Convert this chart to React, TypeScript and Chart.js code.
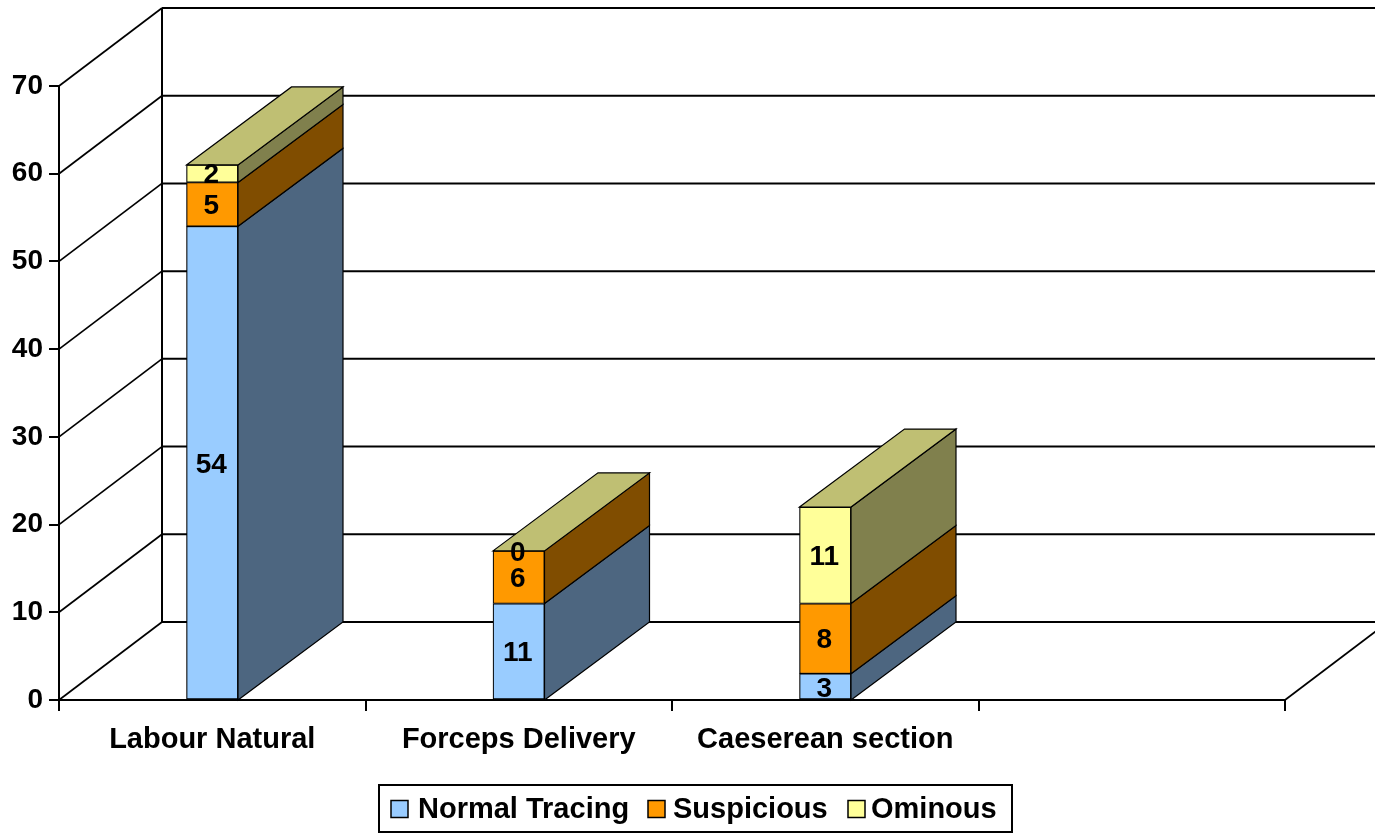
import { useEffect, useRef } from "react";
import { Chart, registerables } from "chart.js";

Chart.register(...registerables);

// Delivery mode per category, with the count of CTG traces of each kind
const categories = ["Labour Natural", "Forceps Delivery", "Caeserean section", ""];
const normalTracing: (number | null)[] = [54, 11, 3, null];
const suspicious: (number | null)[] = [5, 6, 8, null];
const ominous: (number | null)[] = [2, 0, 11, null];

const seriesNames = ["Normal Tracing", "Suspicious", "Ominous"];
const frontColors = ["#99CCFF", "#FF9900", "#FFFF99"];
const sideColors = ["#4D6680", "#804D00", "#80804D"];
const topColors = ["#7399BF", "#BF7300", "#BFBF73"];

const yMin = 0;
const yMax = 70;
const yStep = 10;

const FONT = "'Liberation Sans', Arial, Helvetica, sans-serif";

// Depth projection of the pseudo-3D walls and columns
const WALL_DX = 103;
const WALL_DY = -78;
const BAR_DX = 105;
const BAR_DY = -78;

// Legend layout
const LEGEND_BOX = { x: 379, y: 785, w: 633, h: 47 };
const LEGEND_ITEMS_X = [391, 648, 848];
const LEGEND_TEXT_X = [418, 673, 871];
const LEGEND_SWATCH = 17;

function poly(ctx: CanvasRenderingContext2D, pts: number[][], fill: string) {
  ctx.beginPath();
  ctx.moveTo(pts[0][0], pts[0][1]);
  for (let i = 1; i < pts.length; i++) ctx.lineTo(pts[i][0], pts[i][1]);
  ctx.closePath();
  ctx.fillStyle = fill;
  ctx.fill();
  ctx.strokeStyle = "#000";
  ctx.lineWidth = 1.2;
  ctx.stroke();
}

const wallsPlugin = {
  id: "walls3d",
  beforeDatasetsDraw(chart: any) {
    const { ctx, chartArea, scales } = chart;
    const y = scales.y;
    const { left, right, bottom } = chartArea;
    const W = chart.width;
    ctx.save();
    ctx.strokeStyle = "#000";
    // back wall gridlines
    for (let v = yMin; v <= yMax; v += yStep) {
      const yf = y.getPixelForValue(v);
      const yb = yf + WALL_DY;
      ctx.lineWidth = 2;
      ctx.beginPath();
      ctx.moveTo(left + WALL_DX, yb);
      ctx.lineTo(W, yb);
      ctx.stroke();
      // side wall diagonals
      ctx.lineWidth = 1.7;
      ctx.beginPath();
      ctx.moveTo(left, yf);
      ctx.lineTo(left + WALL_DX, yb);
      ctx.stroke();
    }
    // back corner
    ctx.lineWidth = 2;
    ctx.beginPath();
    ctx.moveTo(left + WALL_DX, y.getPixelForValue(yMin) + WALL_DY);
    ctx.lineTo(left + WALL_DX, y.getPixelForValue(yMax) + WALL_DY);
    ctx.stroke();
    // right edge of the floor
    ctx.lineWidth = 1.7;
    ctx.beginPath();
    ctx.moveTo(right, bottom);
    ctx.lineTo(right + WALL_DX, bottom + WALL_DY);
    ctx.stroke();
    ctx.restore();
  },
  afterDatasetsDraw(chart: any) {
    const { ctx, scales } = chart;
    const y = scales.y;
    const n = chart.data.labels.length;
    ctx.save();
    for (let i = 0; i < n; i++) {
      let cum = 0;
      let topIdx = -1;
      let xl = 0;
      let xr = 0;
      for (let j = 0; j < chart.data.datasets.length; j++) {
        const v = chart.data.datasets[j].data[i];
        if (v === null || v === undefined) continue;
        const el = chart.getDatasetMeta(j).data[i];
        xl = el.x - el.width / 2;
        xr = el.x + el.width / 2;
        const yb = y.getPixelForValue(cum);
        const yt = y.getPixelForValue(cum + v);
        cum += v;
        topIdx = j;
        if (v > 0) {
          poly(ctx, [
            [xr, yt],
            [xr + BAR_DX, yt + BAR_DY],
            [xr + BAR_DX, yb + BAR_DY],
            [xr, yb],
          ], sideColors[j]);
        }
      }
      if (topIdx >= 0) {
        const yt = y.getPixelForValue(cum);
        poly(ctx, [
          [xl, yt],
          [xl + BAR_DX, yt + BAR_DY],
          [xr + BAR_DX, yt + BAR_DY],
          [xr, yt],
        ], topColors[topIdx]);
      }
    }
    // value labels on the front faces
    ctx.fillStyle = "#000";
    ctx.font = `bold 28px ${FONT}`;
    ctx.textAlign = "center";
    ctx.textBaseline = "middle";
    for (let i = 0; i < n; i++) {
      let cum = 0;
      for (let j = 0; j < chart.data.datasets.length; j++) {
        const v = chart.data.datasets[j].data[i];
        if (v === null || v === undefined) continue;
        const el = chart.getDatasetMeta(j).data[i];
        const yb = y.getPixelForValue(cum);
        const yt = y.getPixelForValue(cum + v);
        cum += v;
        ctx.fillText(String(v), el.x - 1, (yb + yt) / 2 + 2);
      }
    }
    ctx.restore();
  },
  afterDraw(chart: any) {
    const { ctx } = chart;
    ctx.save();
    ctx.strokeStyle = "#000";
    ctx.lineWidth = 2;
    ctx.strokeRect(LEGEND_BOX.x, LEGEND_BOX.y, LEGEND_BOX.w, LEGEND_BOX.h);
    ctx.font = `bold 29px ${FONT}`;
    ctx.textAlign = "left";
    ctx.textBaseline = "middle";
    const cy = LEGEND_BOX.y + 24;
    seriesNames.forEach((name, k) => {
      const x = LEGEND_ITEMS_X[k];
      ctx.fillStyle = frontColors[k];
      ctx.fillRect(x, cy - LEGEND_SWATCH / 2, LEGEND_SWATCH, LEGEND_SWATCH);
      ctx.lineWidth = 1.5;
      ctx.strokeRect(x, cy - LEGEND_SWATCH / 2, LEGEND_SWATCH, LEGEND_SWATCH);
      ctx.fillStyle = "#000";
      ctx.fillText(name, LEGEND_TEXT_X[k], cy + 1);
    });
    ctx.restore();
  },
};

export default function App() {
  const ref = useRef<HTMLCanvasElement | null>(null);

  useEffect(() => {
    if (!ref.current) return;
    const series = [normalTracing, suspicious, ominous];
    const chart = new Chart(ref.current, {
      type: "bar",
      data: {
        labels: categories,
        datasets: series.map((d, k) => ({
          label: seriesNames[k],
          data: d,
          backgroundColor: frontColors[k],
          borderColor: "#000",
          borderWidth: 1.2,
          borderSkipped: false,
          barThickness: 51.5,
        })),
      },
      options: {
        responsive: false,
        animation: false,
        devicePixelRatio: 1,
        layout: { padding: { top: 86, right: 90, left: 0, bottom: 0 } },
        plugins: {
          legend: { display: false },
          tooltip: { enabled: false },
        },
        scales: {
          x: {
            stacked: true,
            afterFit: (s: any) => {
              s.height = 133;
            },
            grid: {
              offset: true,
              drawOnChartArea: false,
              drawTicks: true,
              tickLength: 11,
              lineWidth: 2,
              color: "#000",
            },
            border: { display: true, color: "#000", width: 2 },
            ticks: {
              autoSkip: false,
              maxRotation: 0,
              padding: 12,
              color: "#000",
              font: { family: FONT, size: 29, weight: "bold" },
            },
          },
          y: {
            stacked: true,
            min: yMin,
            max: yMax,
            afterFit: (s: any) => {
              s.width = 59;
            },
            grid: {
              drawOnChartArea: false,
              drawTicks: true,
              tickLength: 10,
              lineWidth: 2,
              color: "#000",
            },
            border: { display: true, color: "#000", width: 2 },
            ticks: {
              stepSize: yStep,
              padding: 6,
              color: "#000",
              font: { family: FONT, size: 28, weight: "bold" },
            },
          },
        },
      },
      plugins: [wallsPlugin],
    } as any);
    return () => chart.destroy();
  }, []);

  return (
    <div style={{ position: "fixed", left: 0, top: 0, width: 1375, height: 833, background: "#fff" }}>
      <canvas ref={ref} width={1375} height={833} style={{ display: "block" }} />
    </div>
  );
}
